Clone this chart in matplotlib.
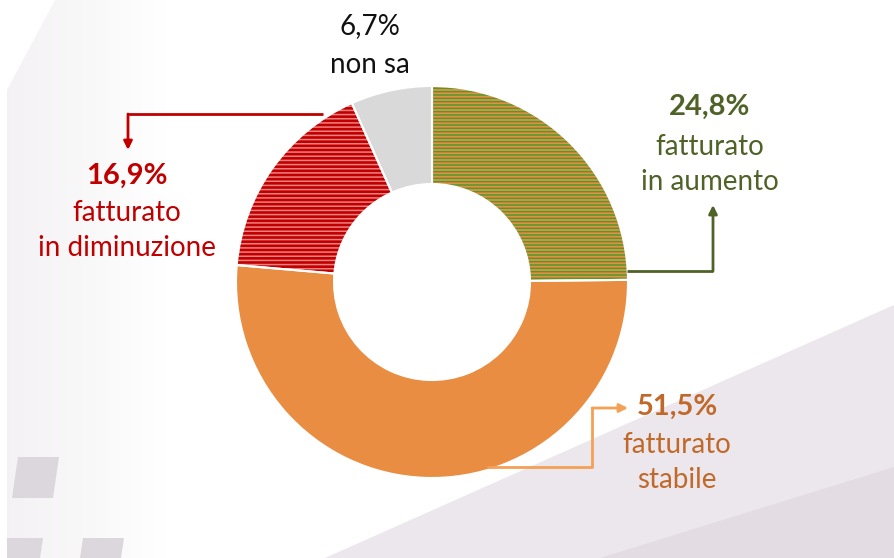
import matplotlib
matplotlib.use("Agg")
import matplotlib.pyplot as plt
import numpy as np
from matplotlib.patches import Polygon

# ---- data ----
categories = ["fatturato in aumento", "fatturato stabile", "fatturato in diminuzione", "non sa"]
values = [24.8, 51.5, 16.9, 6.7]
pct_labels = ["24,8%", "51,5%", "16,9%", "6,7%"]
sub_labels = ["fatturato\nin aumento", "fatturato\nstabile", "fatturato\nin diminuzione", "non sa"]

W, H = 894, 558
plt.rcParams['hatch.linewidth'] = 1.1
plt.rcParams['font.family'] = ['Lato', 'DejaVu Sans']

fig = plt.figure(figsize=(W / 100, H / 100), dpi=100)
ax = fig.add_axes([0, 0, 1, 1])
ax.set_xlim(0, W)
ax.set_ylim(0, H)
ax.axis('off')

def Y(y):
    return H - y

# ---- background decoration ----
ny, nx = 120, 200
yy, xx = np.mgrid[0:ny, 0:nx]
alpha = np.clip(1 - (xx / nx) * 2.4, 0, 1) * 0.45
img = np.zeros((ny, nx, 4))
img[..., :3] = np.array([0.90, 0.88, 0.90])
img[..., 3] = alpha
im = ax.imshow(img, extent=(0, 400, 0, H), origin='upper', zorder=0, aspect='auto')
clip = Polygon([(7, Y(90)), (55, Y(0)), (400, Y(0)), (400, Y(H)), (7, Y(H))],
               closed=True, transform=ax.transData)
im.set_clip_path(clip)
for pts in [[(18, 457), (59, 457), (53, 498), (12, 498)],
            [(7, 538), (43, 538), (40, 558), (7, 558)],
            [(83, 538), (124, 538), (121, 558), (80, 558)]]:
    ax.add_patch(Polygon([(x, Y(y)) for x, y in pts], closed=True,
                         facecolor='#dcd7dc', edgecolor='none', zorder=0))
ax.add_patch(Polygon([(325, Y(558)), (894, Y(305)), (894, Y(558))], closed=True,
                     facecolor='#ece7ec', edgecolor='none', zorder=0))
ax.add_patch(Polygon([(600, Y(558)), (894, Y(467)), (894, Y(558))], closed=True,
                     facecolor='#e3dde3', edgecolor='none', zorder=0))

# ---- donut ----
center = (432, Y(282))
R = 196
face = ['#E98D43', '#E98D43', '#C00000', '#D9D9D9']
hatches = ['-----', None, '----', None]
hatch_col = ['#4E9A2E', None, '#F08080', None]

wedges, _ = ax.pie(values, colors=face, startangle=90, counterclock=False,
                   radius=R, center=center, frame=True,
                   wedgeprops=dict(width=98, linewidth=0))
for w, h, hc in zip(wedges, hatches, hatch_col):
    w.set_zorder(2)
    if h:
        w.set_hatch(h)
        w.set_edgecolor(hc)
        w.set_linewidth(0)

over, _ = ax.pie(values, colors=['none'] * 4, startangle=90, counterclock=False,
                 radius=R, center=center, frame=True,
                 wedgeprops=dict(width=98, linewidth=1.5, edgecolor='white', fill=False))
for w in over:
    w.set_zorder(3)

ax.set_xlim(0, W)
ax.set_ylim(0, H)
ax.set_aspect('auto')
ax.axis('off')

# ---- connectors ----
def connector(pts, color):
    xs = [p[0] for p in pts]
    ys = [Y(p[1]) for p in pts]
    ax.plot(xs[:-1], ys[:-1], color=color, lw=2, solid_capstyle='butt', zorder=4)
    ax.annotate('', xy=(xs[-1], ys[-1]), xytext=(xs[-2], ys[-2]),
                arrowprops=dict(arrowstyle='-|>,head_length=0.5,head_width=0.25',
                                color=color, lw=2, shrinkA=0, shrinkB=0), zorder=4)

connector([(627, 271), (713, 271), (713, 205)], '#4F6228')
connector([(323, 114), (128, 114), (128, 150)], '#C00000')
connector([(487, 467), (592, 467), (592, 408), (628, 408)], '#F4A055')

# ---- labels ----
fs = 20
fs_b = 21
def label(x, y_pct, y1, pct, lines, color, bold=True, lh=35):
    ax.text(x, Y(y_pct), pct, color=color, fontsize=fs_b if bold else fs,
            fontweight='bold' if bold else 'normal', ha='center', va='center', zorder=5)
    for i, ln in enumerate(lines.split('\n')):
        ax.text(x, Y(y1 + i * lh), ln, color=color, fontsize=fs,
                ha='center', va='center', zorder=5)

label(710, 107, 147, pct_labels[0], sub_labels[0], '#4F6228')
label(677, 407, 445, pct_labels[1], sub_labels[1], '#C0692A')
label(127, 176, 213, pct_labels[2], sub_labels[2], '#C00000')
label(370, 26, 65, pct_labels[3], sub_labels[3], '#111111', bold=False)

fig.savefig('out.png', dpi=100)
